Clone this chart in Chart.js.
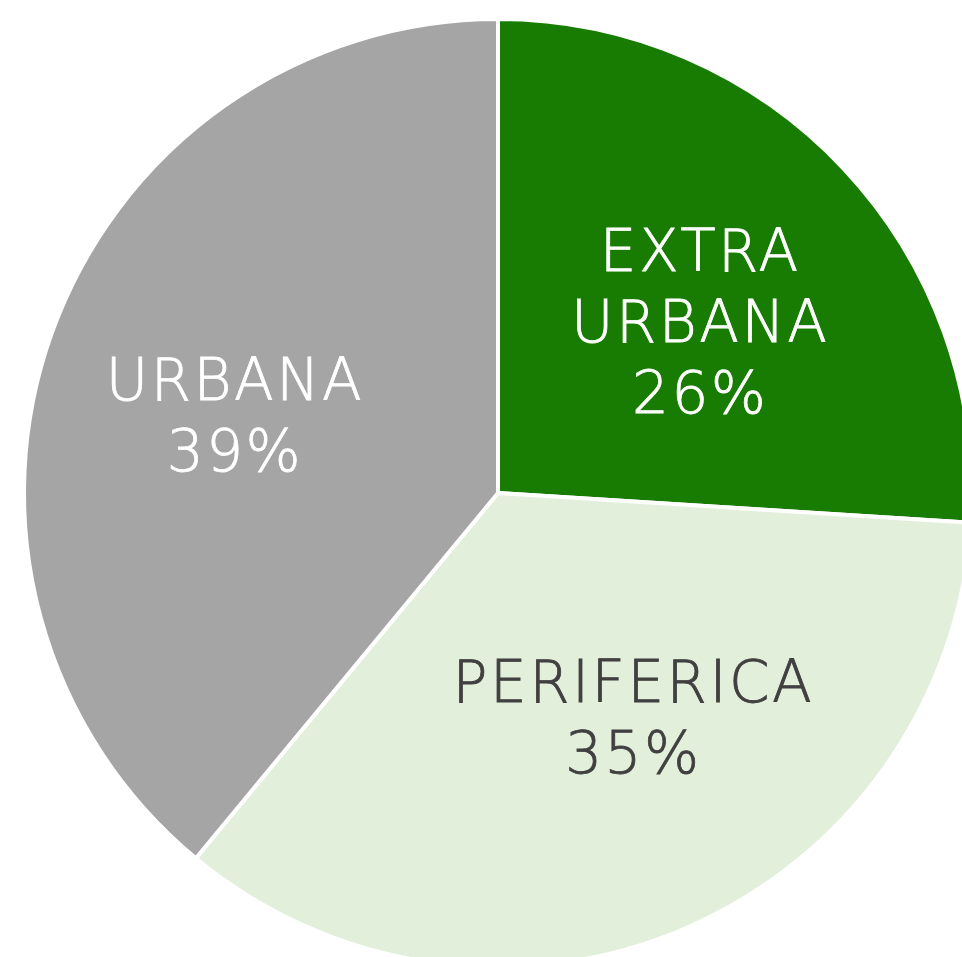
<!DOCTYPE html>
<html>
<head>
<meta charset="utf-8">
<script src="https://cdn.jsdelivr.net/npm/chart.js@4/dist/chart.umd.min.js"></script>
<style>
  html, body { margin: 0; padding: 0; overflow: hidden; background: #fff; width: 962px; height: 957px; }
  #wrap { position: absolute; left: 18px; top: 13px; width: 960px; height: 960px; }
</style>
</head>
<body>
<div id="wrap"><canvas id="ch_pie"></canvas></div>
<script>
// categories and shares (%)
const zoneLabels = [['EXTRA', 'URBANA'], ['PERIFERICA'], ['URBANA']];
const zoneShares = [26, 35, 39];
const zoneColors = ['#197c02', '#e2efda', '#a5a5a5'];
const textColors = ['#ffffff', '#404040', '#ffffff'];

// simple in-slice label drawer (no datalabels plugin available)
const sliceLabels = {
  id: 'sliceLabels',
  afterDatasetsDraw(chart, args, opts) {
    const { ctx } = chart;
    const meta = chart.getDatasetMeta(0);
    ctx.save();
    ctx.font = '200 58px "DejaVu Sans", sans-serif';
    ctx.textAlign = 'center';
    ctx.textBaseline = 'middle';
    if ('letterSpacing' in ctx) ctx.letterSpacing = '2.5px';
    meta.data.forEach((arc, i) => {
      const p = arc.getProps(['x', 'y', 'startAngle', 'endAngle', 'outerRadius'], true);
      const mid = (p.startAngle + p.endAngle) / 2;
      const r = p.outerRadius * 0.565;
      const nudge = opts.nudge[i] || [0, 0];
      const cx = p.x + Math.cos(mid) * r + nudge[0];
      const cy = p.y + Math.sin(mid) * r + nudge[1];
      const lines = [...zoneLabels[i], zoneShares[i] + '%'];
      const lh = 71;
      const y0 = cy - (lines.length - 1) * lh / 2;
      ctx.fillStyle = textColors[i];
      // slight stroke to thicken the extra-light face a little
      ctx.strokeStyle = textColors[i];
      ctx.lineWidth = 0.8;
      lines.forEach((t, k) => {
        ctx.fillText(t, cx, y0 + k * lh);
        ctx.strokeText(t, cx, y0 + k * lh);
      });
    });
    ctx.restore();
  }
};

new Chart(document.getElementById('ch_pie').getContext('2d'), {
  type: 'pie',
  data: {
    labels: zoneLabels,
    datasets: [{
      data: zoneShares,
      backgroundColor: zoneColors,
      borderColor: '#ffffff',
      borderWidth: 4
    }]
  },
  options: {
    responsive: true,
    maintainAspectRatio: false,
    animation: false,
    radius: 474,
    plugins: {
      legend: { display: false },
      tooltip: { enabled: false },
      sliceLabels: { nudge: [[7, 17], [29, -16], [-11, 18]] }
    }
  },
  plugins: [sliceLabels]
});
</script>
</body>
</html>
